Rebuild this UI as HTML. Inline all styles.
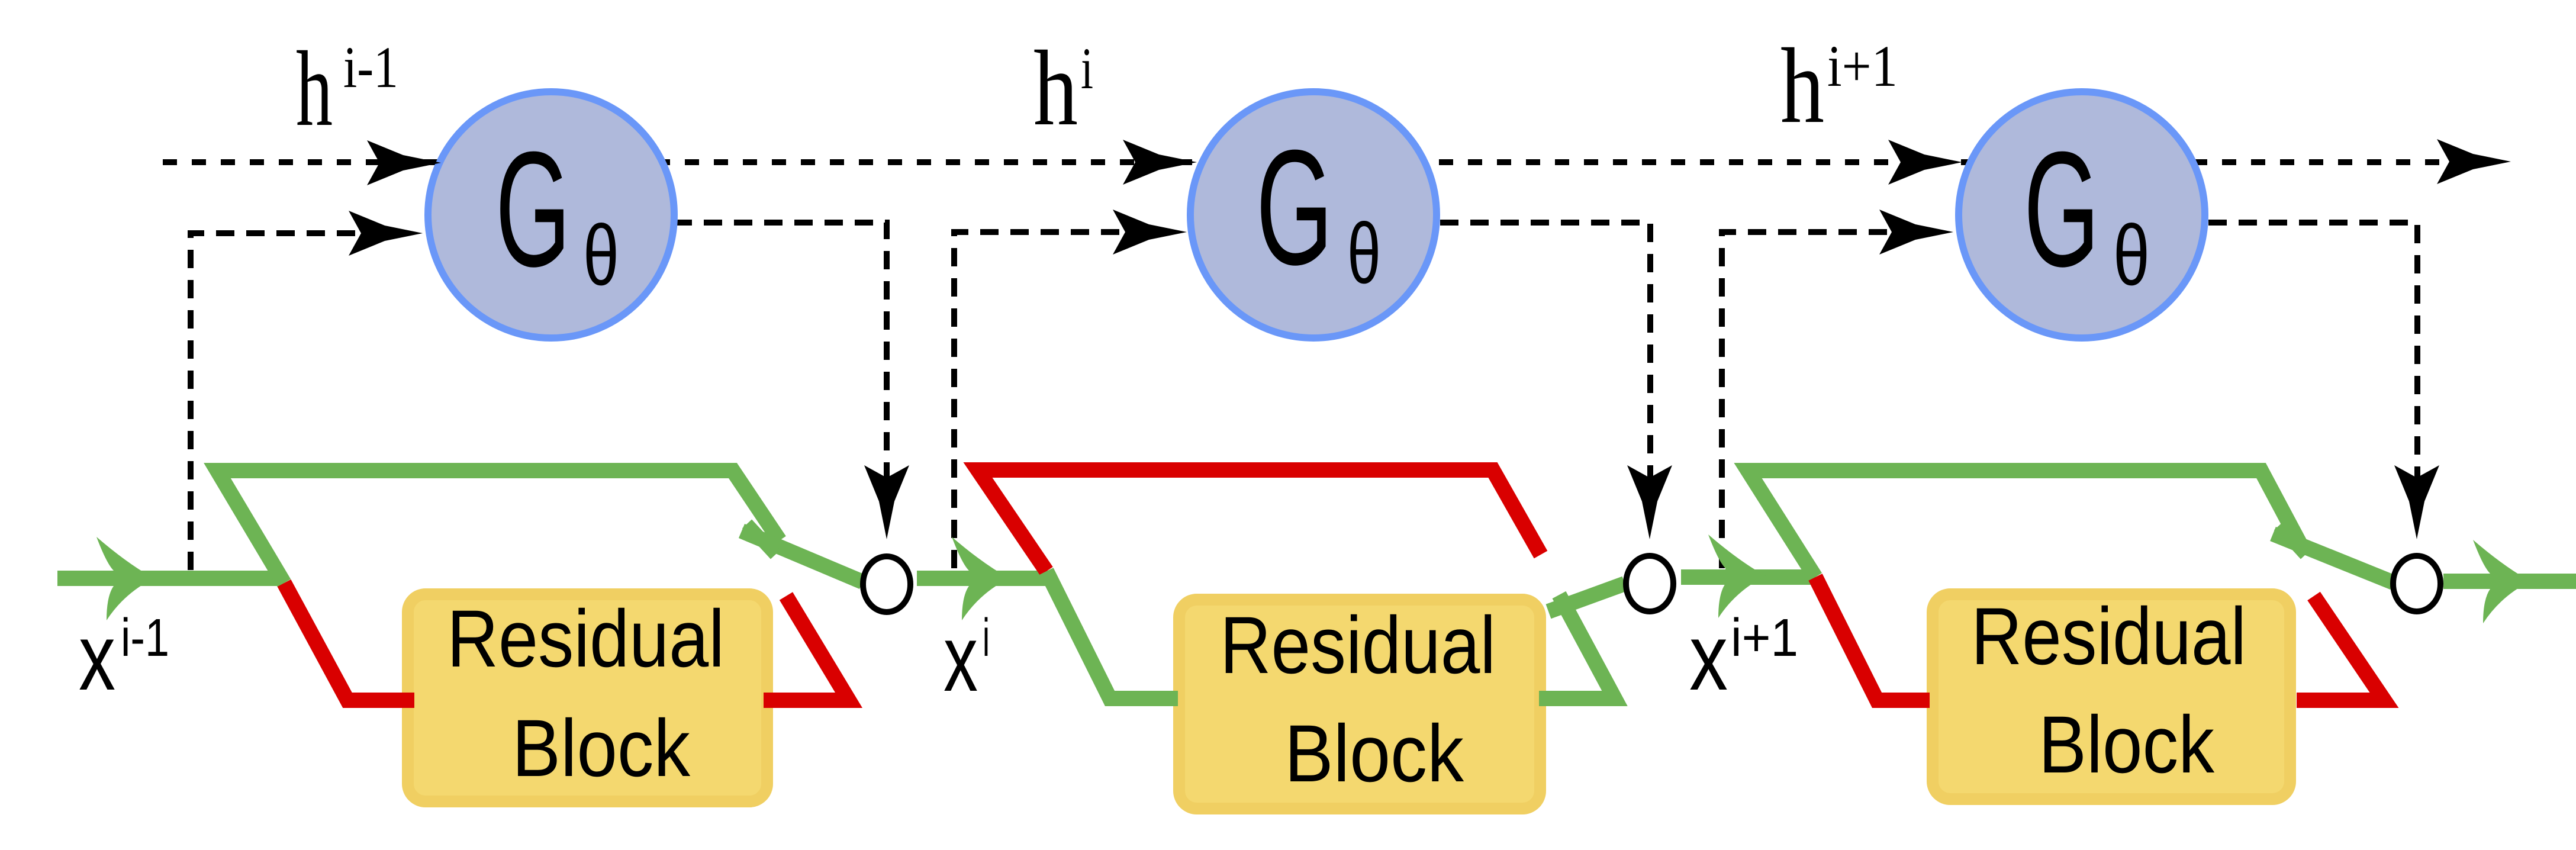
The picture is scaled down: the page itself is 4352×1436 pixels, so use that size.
<!DOCTYPE html>
<html><head><meta charset="utf-8"><style>html,body{margin:0;padding:0;background:#fff}svg{display:block}</style></head>
<body>
<svg width="4352" height="1436" viewBox="0 0 4352 1436" xmlns="http://www.w3.org/2000/svg">
<defs>
<path id="ah" d="M0,0 L-64,-13 L-125,-38 L-104,0 L-125,38 L-64,13 Z" fill="#000"/>
<path id="gh" d="M0,0 Q-45,-25 -97,-70 Q-80,-25 -68,-13 L-68,13 Q-80,30 -80,71 Q-50,25 0,0 Z" fill="#6db454"/>
</defs>
<g fill="none" stroke="#000" stroke-width="10">
<!-- top dotted -->
<line x1="275" y1="274" x2="4140" y2="274" stroke-dasharray="24 25"/>
<!-- block1 -->
<polyline points="322,963 322,394 620,394" stroke-dasharray="31 20"/>
<polyline points="1138,376 1498,376 1498,820" stroke-dasharray="31 20"/>
<!-- block2 -->
<polyline points="1612,960 1612,392 1910,392" stroke-dasharray="31 20"/>
<polyline points="2433,376 2788,376 2788,820" stroke-dasharray="31 20"/>
<!-- block3 -->
<polyline points="2909,960 2909,392 3205,392" stroke-dasharray="31 20"/>
<polyline points="3731,376 4084,376 4084,820" stroke-dasharray="31 20"/>
</g>
<!-- G circles -->
<g fill="#afb9db" stroke="#6a97f8" stroke-width="12">
<circle cx="931" cy="363" r="208"/>
<circle cx="2219" cy="363" r="208"/>
<circle cx="3517" cy="363" r="208"/>
</g>
<g font-family="Liberation Sans, sans-serif" fill="#000">
<text x="837" y="449" font-size="277" textLength="127" lengthAdjust="spacingAndGlyphs">G</text>
<text x="985" y="481" font-size="145" textLength="61" lengthAdjust="spacingAndGlyphs">θ</text>
<text x="2122" y="446" font-size="277" textLength="130" lengthAdjust="spacingAndGlyphs">G</text>
<text x="2276" y="478" font-size="145" textLength="57" lengthAdjust="spacingAndGlyphs">θ</text>
<text x="3419" y="449" font-size="277" textLength="128" lengthAdjust="spacingAndGlyphs">G</text>
<text x="3570" y="481" font-size="145" textLength="62" lengthAdjust="spacingAndGlyphs">θ</text>
</g>
<!-- black arrows -->
<use href="#ah" transform="translate(745,275)"/>
<use href="#ah" transform="translate(714,394)"/>
<use href="#ah" transform="translate(2022,274)"/>
<use href="#ah" transform="translate(2005,392)"/>
<use href="#ah" transform="translate(3315,274)"/>
<use href="#ah" transform="translate(3300,392)"/>
<use href="#ah" transform="translate(4242,273)"/>
<use href="#ah" transform="translate(1498,911) rotate(90)"/>
<use href="#ah" transform="translate(2787,911) rotate(90)"/>
<use href="#ah" transform="translate(4083,911) rotate(90)"/>
<!-- residual boxes -->
<g fill="#f4d86f" stroke="#f0cf62" stroke-width="20">
<rect x="689" y="1004" width="607" height="350" rx="30"/>
<rect x="1992" y="1013" width="610" height="353" rx="30"/>
<rect x="3265" y="1004" width="604" height="346" rx="30"/>
</g>
<g font-family="Liberation Sans, sans-serif" fill="#000" font-size="137">
<text x="755" y="1126" textLength="469" lengthAdjust="spacingAndGlyphs">Residual</text>
<text x="865" y="1311" textLength="301" lengthAdjust="spacingAndGlyphs">Block</text>
<text x="2061" y="1137" textLength="466" lengthAdjust="spacingAndGlyphs">Residual</text>
<text x="2170" y="1320" textLength="303" lengthAdjust="spacingAndGlyphs">Block</text>
<text x="3330" y="1122" textLength="465" lengthAdjust="spacingAndGlyphs">Residual</text>
<text x="3444" y="1305" textLength="297" lengthAdjust="spacingAndGlyphs">Block</text>
</g>
<!-- green / red paths -->
<g fill="none" stroke-width="26" stroke-linejoin="miter">
<line x1="97" y1="977" x2="480" y2="977" stroke="#6db454"/>
<line x1="1549" y1="977" x2="1772" y2="977" stroke="#6db454"/>
<line x1="2840" y1="975" x2="3067" y2="975" stroke="#6db454"/>
<line x1="4128" y1="982" x2="4352" y2="982" stroke="#6db454"/>
<!-- block1 -->
<polyline points="480,985 367,795 1238,795 1317,913" stroke="#6db454"/>
<polyline points="480,985 587,1183 700,1183" stroke="#d90000"/>
<polyline points="1290,1183 1434,1183 1328,1007" stroke="#d90000"/>
<line x1="1253" y1="897" x2="1457" y2="983" stroke="#6db454"/>
<line x1="1262" y1="885" x2="1310" y2="937" stroke="#6db454" stroke-width="22"/>
<!-- block2 -->
<polyline points="1768,965 1652,794 2522,794 2603,937" stroke="#d90000"/>
<polyline points="1768,965 1875,1180 1990,1180" stroke="#6db454"/>
<polyline points="2600,1180 2728,1180 2634,1005" stroke="#6db454"/>
<line x1="2616" y1="1033" x2="2745" y2="986" stroke="#6db454"/>
<!-- block3 -->
<polyline points="3067,975 2953,795 3820,795 3894,934" stroke="#6db454"/>
<polyline points="3067,975 3171,1183 3260,1183" stroke="#d90000"/>
<polyline points="3880,1183 4028,1183 3909,1007" stroke="#d90000"/>
<line x1="3840" y1="902" x2="4043" y2="984" stroke="#6db454"/>
<line x1="3850" y1="888" x2="3895" y2="937" stroke="#6db454" stroke-width="22"/>
</g>
<use href="#gh" transform="translate(260,977)"/>
<use href="#gh" transform="translate(1705,977)"/>
<use href="#gh" transform="translate(2983,973)"/>
<use href="#gh" transform="translate(4275,982)"/>
<!-- small circles -->
<g fill="#fff" stroke="#000" stroke-width="10">
<ellipse cx="1498" cy="987" rx="40" ry="47"/>
<ellipse cx="2787" cy="986" rx="40" ry="47"/>
<ellipse cx="4083" cy="986" rx="40" ry="47"/>
</g>
<!-- h labels -->
<g font-family="Liberation Serif, serif" fill="#000">
<text x="500" y="211" font-size="182" textLength="62" lengthAdjust="spacingAndGlyphs">h</text>
<text x="580" y="147" font-size="100" textLength="93" lengthAdjust="spacingAndGlyphs">i-1</text>
<text x="1746" y="210" font-size="182" textLength="75" lengthAdjust="spacingAndGlyphs">h</text>
<text x="1826" y="149" font-size="100" textLength="21" lengthAdjust="spacingAndGlyphs">i</text>
<text x="3008" y="206" font-size="182" textLength="74" lengthAdjust="spacingAndGlyphs">h</text>
<text x="3087" y="145" font-size="100" textLength="119" lengthAdjust="spacingAndGlyphs">i+1</text>
</g>
<!-- x labels -->
<g font-family="Liberation Sans, sans-serif" fill="#000">
<text x="133" y="1165" font-size="160" textLength="62" lengthAdjust="spacingAndGlyphs">x</text>
<text x="204" y="1108" font-size="90" textLength="82" lengthAdjust="spacingAndGlyphs">i-1</text>
<text x="1594" y="1167" font-size="160" textLength="58" lengthAdjust="spacingAndGlyphs">x</text>
<text x="1660" y="1108" font-size="90" textLength="12" lengthAdjust="spacingAndGlyphs">i</text>
<text x="2854" y="1165" font-size="160" textLength="65" lengthAdjust="spacingAndGlyphs">x</text>
<text x="2924" y="1108" font-size="90" textLength="114" lengthAdjust="spacingAndGlyphs">i+1</text>
</g>
</svg>
</body></html>
